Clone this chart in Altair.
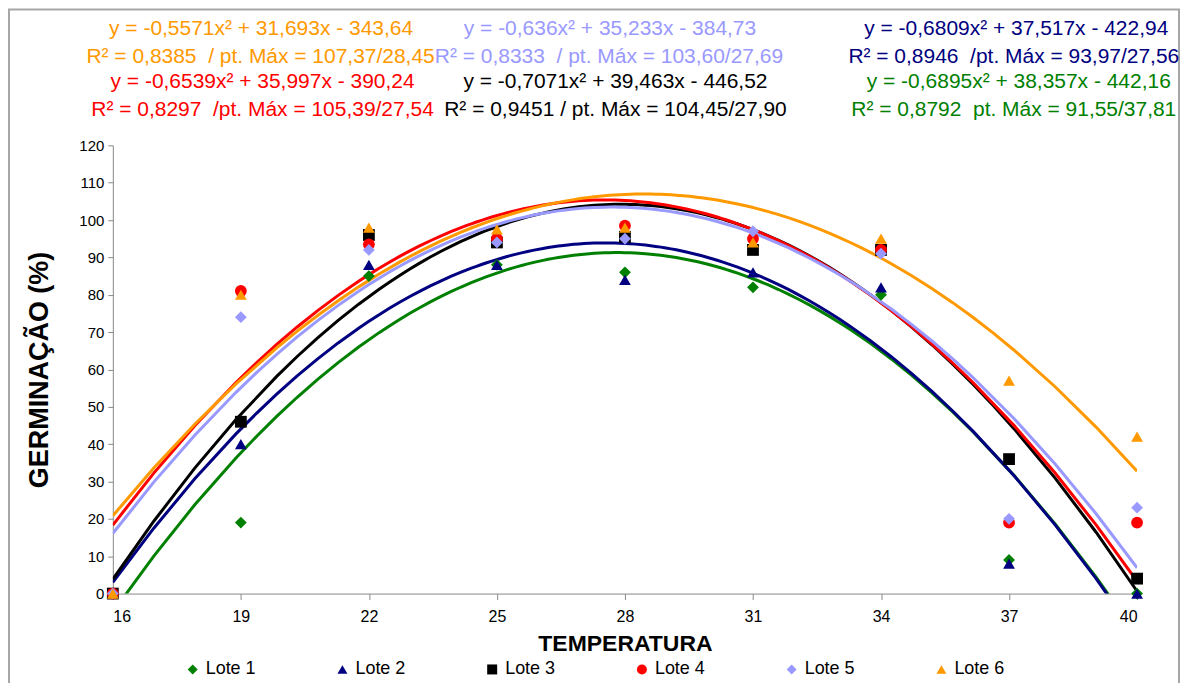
import altair as alt
import pandas as pd

# ---- data ----
temps = [16, 19, 22, 25, 28, 31, 34, 37, 40]
lotes = ["Lote 1", "Lote 2", "Lote 3", "Lote 4", "Lote 5", "Lote 6"]
lote1 = [0, 19, 85, 88, 86, 82, 80, 9, 0]
lote2 = [0, 40, 88, 88, 84, 86, 82, 8, 0]
lote3 = [0, 46, 96, 94, 95.5, 92, 92, 36, 4]
lote4 = [0, 81, 93.5, 95, 98.5, 95, 92, 19, 19]
lote5 = [0, 74, 92, 94, 95, 97, 91, 20, 23]
lote6 = [0, 80, 98, 97.5, 98, 94, 95, 57, 42]
series = [lote1, lote2, lote3, lote4, lote5, lote6]

y_ticks = list(range(0, 121, 10))

NB = "\u00a0"
eq_texts = [
    "y = -0,5571x² + 31,693x - 343,64",
    "R² = 0,8385 " + NB + "/ pt. Máx = 107,37/28,45",
    "y = -0,6539x² + 35,997x - 390,24",
    "R² = 0,8297 " + NB + "/pt. Máx = 105,39/27,54",
    "y = -0,636x² + 35,233x - 384,73",
    "R² = 0,8333 " + NB + "/ pt. Máx = 103,60/27,69",
    "y = -0,7071x² + 39,463x - 446,52",
    "R² = 0,9451 / pt. Máx = 104,45/27,90",
    "y = -0,6809x² + 37,517x - 422,94",
    "R² = 0,8946 " + NB + "/pt. Máx = 93,97/27,56",
    "y = -0,6895x² + 38,357x - 442,16",
    "R² = 0,8792 " + NB + "pt. Máx = 91,55/37,81",
]

# ---- styles / layout ----
colors = ["#008000", "#000080", "#000000", "#FF0000", "#9999FF", "#FF9900"]
shapes = ["diamond", "triangle-up", "square", "circle", "diamond", "triangle-up"]
eq_colors = ["#FF9900", "#FF9900", "#FF0000", "#FF0000",
             "#9999FF", "#9999FF", "#000000", "#000000",
             "#000080", "#000080", "#008000", "#008000"]
eq_x = [148.5, 148, 150, 150, 498, 497, 503.5, 503.5, 905, 902.5, 907.5, 902.5]
eq_y = [-117, -88, -63, -35, -117, -88, -63, -35, -117, -88, -63, -35]

FONT = "Liberation Sans"

rows = []
for name, vals in zip(lotes, series):
    for t, v in zip(temps, vals):
        rows.append({"lote": name, "temp": t, "germ": v})
df = pd.DataFrame(rows)

x_enc = alt.X(
    "temp:Q",
    scale=alt.Scale(domain=[16, 40], nice=False, zero=False),
    axis=alt.Axis(values=temps, title="TEMPERATURA", grid=False, labelAngle=0,
                  labelFontSize=16, titleFontSize=23, titleFontWeight="bold",
                  tickSize=6, labelPadding=9, titlePadding=8,
                  domainColor="#888888", tickColor="#888888", labelColor="#000000",
                  labelFont=FONT, titleFont=FONT, titleColor="#000000"),
)
y_enc = alt.Y(
    "germ:Q",
    scale=alt.Scale(domain=[0, 120], nice=False),
    axis=alt.Axis(values=y_ticks, title="GERMINAÇÃO (%)", grid=False,
                  labelFontSize=15, titleFontSize=27, titleFontWeight="bold",
                  tickSize=5, labelPadding=4, titlePadding=25,
                  domainColor="#888888", tickColor="#888888", labelColor="#000000",
                  labelFont=FONT, titleFont=FONT, titleColor="#000000"),
)

legend_kw = dict(title=None, orient="none", legendX=71, legendY=516,
                 direction="horizontal", columns=6, columnPadding=77,
                 labelFontSize=18, labelFont=FONT, labelColor="#000000",
                 symbolSize=100, labelOffset=4, padding=0)

lines = (
    alt.Chart(df)
    .transform_regression("temp", "germ", groupby=["lote"], method="poly",
                          order=2, extent=[16, 40])
    .mark_line(clip=True, strokeWidth=3)
    .encode(
        x=x_enc,
        y=y_enc,
        stroke=alt.Stroke("lote:N",
                          scale=alt.Scale(domain=lotes[::-1], range=colors[::-1]),
                          legend=None),
        detail="lote:N",
    )
)

points = (
    alt.Chart(df)
    .mark_point(filled=True, size=140, opacity=1)
    .encode(
        x=x_enc,
        y=y_enc,
        color=alt.Color("lote:N", scale=alt.Scale(domain=lotes, range=colors),
                        legend=alt.Legend(**legend_kw)),
        shape=alt.Shape("lote:N", scale=alt.Scale(domain=lotes, range=shapes),
                        legend=alt.Legend(**legend_kw)),
    )
)

one = pd.DataFrame({"k": [0]})
texts = []
for t, c, px, py in zip(eq_texts, eq_colors, eq_x, eq_y):
    texts.append(
        alt.Chart(one)
        .mark_text(text=t, color=c, fontSize=21, font=FONT, align="center",
                   baseline="middle")
        .encode(x=alt.value(px), y=alt.value(py))
    )

border = (
    alt.Chart(one)
    .mark_rect(fillOpacity=0, stroke="#A6A6A6", strokeWidth=2)
    .encode(x=alt.value(-104), x2=alt.value(1068), y=alt.value(-136), y2=alt.value(640))
)

chart = (
    alt.layer(border, lines, points, *texts)
    .properties(
        width=1026,
        height=449,
        autosize=alt.AutoSizeParams(type="none"),
        padding={"left": 105, "top": 137, "right": 44, "bottom": 89},
    )
    .configure_view(stroke=None)
)

chart.save("out.html", embed_options={"renderer": "svg", "actions": False})
